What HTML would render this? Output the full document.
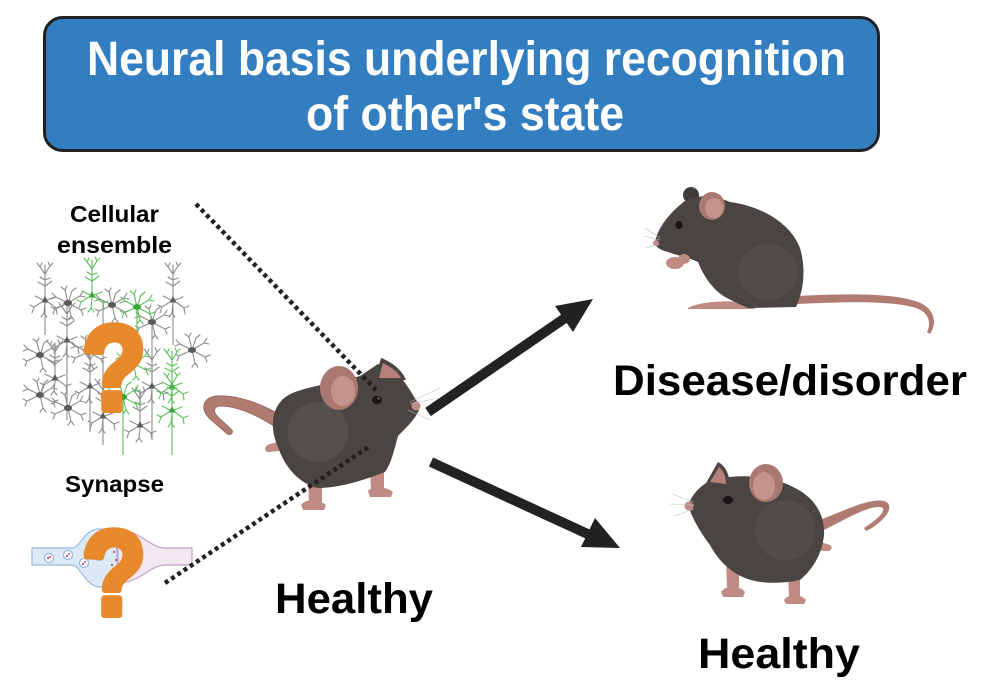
<!DOCTYPE html>
<html><head><meta charset="utf-8"><style>
html,body{margin:0;padding:0;background:#fff;}
svg{display:block;}
text{font-family:"Liberation Sans",Arial,sans-serif;font-weight:bold;}
</style></head><body>
<svg width="993" height="700" viewBox="0 0 993 700" xmlns="http://www.w3.org/2000/svg">
<defs>
 <g id="pyr" stroke-width="1.1" stroke-linecap="round">
  <path fill="none" d="M0,-3 V-26 M0,-26 L-5,-33 M0,-26 L5,-34 M0,-26 L0,-35 M-5,-33 L-8,-37 M-5,-33 L-3,-37 M5,-34 L8,-37 M5,-34 L3,-38 M0,-14 L-7,-18 M0,-14 L7,-19 M0,-20 L-5,-23 M0,-20 L5,-22 M-3,2 L-11,7 L-15,5 M-11,7 L-13,13 M3,2 L11,8 L16,6 M11,8 L12,14 M0,3 L-1,13 M-1,13 L-4,17 M-1,13 L2,17 M-2,0 L-10,-4 M2,0 L10,-3"/>
  <path stroke="none" d="M-3.5,2.5 L0,-4 L3.5,2.5 Z"/>
 </g>
 <g id="star" stroke-width="1.1" stroke-linecap="round">
  <path fill="none" d="M0,0 L-12,-6 L-16,-10 M-12,-6 L-17,-4 M0,0 L12,-7 L15,-12 M12,-7 L17,-6 M0,0 L-13,6 L-17,4 M-13,6 L-15,11 M0,0 L13,7 L18,5 M13,7 L15,12 M0,0 L-3,-13 L-7,-16 M-3,-13 L-1,-17 M0,0 L3,13 L0,17 M3,13 L6,17 M0,0 L4,-12 L8,-15"/>
  <ellipse rx="4" ry="3" stroke="none"/>
 </g>
</defs>
<rect width="993" height="700" fill="#fff"/>

<!-- banner -->
<rect x="44.5" y="17.5" width="834" height="133" rx="18" fill="#327ec1" stroke="#222" stroke-width="3"/>
<text x="87" y="75" font-size="48" fill="#fff" textLength="759" lengthAdjust="spacingAndGlyphs">Neural basis underlying recognition</text>
<text x="306" y="130" font-size="48" fill="#fff" textLength="318" lengthAdjust="spacingAndGlyphs">of other's state</text>

<!-- labels -->
<text x="70" y="222" font-size="23" fill="#000" textLength="89" lengthAdjust="spacingAndGlyphs">Cellular</text>
<text x="57" y="253" font-size="23" fill="#000" textLength="115" lengthAdjust="spacingAndGlyphs">ensemble</text>
<text x="65" y="492" font-size="23" fill="#000" textLength="99" lengthAdjust="spacingAndGlyphs">Synapse</text>
<text x="275" y="613" font-size="43" fill="#000" textLength="158" lengthAdjust="spacingAndGlyphs">Healthy</text>
<text x="613" y="395" font-size="43" fill="#000" textLength="354" lengthAdjust="spacingAndGlyphs">Disease/disorder</text>
<text x="698" y="668" font-size="43" fill="#000" textLength="162" lengthAdjust="spacingAndGlyphs">Healthy</text>

<!-- neurons gray -->
<g stroke="#8d8d8d" fill="#5a5a5a">
 <path fill="none" stroke-width="1.1" d="M173,298 V345 M103,300 V445 M67,337 V420 M45,292 V335 M152,322 V440 M90,383 V432"/>
 <use href="#pyr" x="45" y="300"/>
 <use href="#pyr" x="67" y="340"/>
 <use href="#pyr" x="55" y="378"/>
 <use href="#pyr" x="90" y="386"/>
 <use href="#pyr" x="173" y="300"/>
 <use href="#pyr" x="152" y="386"/>
 <use href="#pyr" x="140" y="425"/>
 <use href="#pyr" x="103" y="416"/>
 <use href="#star" x="68" y="303"/>
 <use href="#star" x="112" y="305"/>
 <use href="#star" x="152" y="322"/>
 <use href="#star" x="40" y="355"/>
 <use href="#star" x="88" y="352"/>
 <use href="#star" x="192" y="350"/>
 <use href="#star" x="68" y="408"/>
 <use href="#star" x="40" y="395"/>
</g>
<!-- neurons green -->
<g stroke="#5cc05c" fill="#3ca33c">
 <path fill="none" stroke-width="1.1" d="M123,397 V455 M172,407 V455 M137,307 V360"/>
 <use href="#pyr" x="92" y="295"/>
 <use href="#pyr" x="172" y="386"/>
 <use href="#pyr" x="172" y="410"/>
 <use href="#star" x="137" y="307"/>
 <use href="#star" x="133" y="363"/>
 <use href="#star" x="123" y="397"/>
</g>

<!-- question mark 1 -->
<text x="114" y="409.5" font-size="120" fill="#e8892b" stroke="#e8892b" stroke-width="7" stroke-linejoin="round" text-anchor="middle" transform="translate(114,0) scale(0.88,1) translate(-114,0)">?</text>

<!-- synapse -->
<path d="M32,548 L72,548 C80,548 84,530 98,529 L116,529 L118,586 L100,587 C86,587 80,565 72,565 L32,565 Z" fill="#dce9f7" stroke="#9bb8dc" stroke-width="1.2"/>
<path d="M118,530 C140,530 150,548 165,548 L192,548 L192,565 L165,565 C150,565 140,583 118,583 Z" fill="#f3e8f1" stroke="#c7a2c6" stroke-width="1.2"/>
<g fill="#f4f8fd" stroke="#8eaedb" stroke-width="1">
 <circle cx="49" cy="558" r="4.5"/><circle cx="68" cy="555" r="4.5"/><circle cx="84" cy="563" r="4.5"/><circle cx="99" cy="556" r="4.5"/>
</g>
<g fill="#b3343a">
 <circle cx="48" cy="558" r="1"/><circle cx="50" cy="557" r="0.9"/><circle cx="67" cy="556" r="1"/><circle cx="69" cy="554" r="0.9"/><circle cx="83" cy="564" r="1"/><circle cx="85" cy="562" r="0.9"/><circle cx="98" cy="557" r="1"/><circle cx="100" cy="555" r="0.9"/>
 <circle cx="110" cy="545" r="1"/><circle cx="114" cy="552" r="1"/><circle cx="118" cy="541" r="1"/><circle cx="116" cy="560" r="1"/><circle cx="112" cy="565" r="1"/>
</g>
<text x="114" y="614.5" font-size="120" fill="#e8892b" stroke="#e8892b" stroke-width="7" stroke-linejoin="round" text-anchor="middle" transform="translate(114,0) scale(0.88,1) translate(-114,0)">?</text>

<!-- center mouse -->
<g>
 <path d="M282,416 C262,404 236,394 216,396 C202,398 200,410 210,419 L226,433 C229,436 234,434 232,430 L218,417 C212,411 214,406 222,406 C242,407 262,418 280,430 Z" fill="#b07c72" stroke="#8f6058" stroke-width="0.8"/>
 <path d="M286,440 L270,444 C263,446 264,453 270,452 L286,450 Z" fill="#c08b83"/>
 <path d="M370,468 L371,490 L384,490 L384,466 Z" fill="#c08b83"/>
 <path d="M368,491 C372,486 386,486 393,492 L391,497 L370,497 Z" fill="#c08b83"/>
 <path d="M308,478 L309,502 L322,502 L322,478 Z" fill="#c08b83"/>
 <path d="M301,505 C305,499 318,498 326,505 L324,510 L303,510 Z" fill="#c08b83"/>
 <path d="M278,447 C268,425 272,400 295,392 C315,385 335,383 360,376 L378,364 L395,372 C405,380 412,394 420,406 C418,416 410,424 398,436 C394,450 392,462 385,472 C365,480 340,488 318,488 C300,484 285,468 278,447 Z" fill="#4a4543"/>
 <ellipse cx="318" cy="432" rx="30" ry="30" fill="#55504d"/>
 <ellipse cx="339" cy="388" rx="19" ry="22" fill="#a97870"/>
 <ellipse cx="343" cy="391" rx="12" ry="15" fill="#c4948c"/>
 <path d="M374,382 L381,358 C392,362 402,370 406,380 Z" fill="#4a4543"/>
 <path d="M379,378 L383,363 C391,367 398,372 401,378 Z" fill="#b78078"/>
 <ellipse cx="377" cy="400" rx="5" ry="4" fill="#151515"/>
 <circle cx="378.5" cy="398.5" r="1" fill="#888"/>
 <circle cx="416" cy="406" r="4.5" fill="#c28a86"/>
 <path d="M410,402 L440,388 M410,404 L438,398 M408,410 L430,420" stroke="#bbb" stroke-width="0.6" fill="none"/>
</g>

<!-- top-right mouse -->
<g>
 <path d="M796,296 C840,294 890,292 918,302 C934,308 938,322 930,334 L927,332 C932,322 928,312 916,308 C890,300 840,302 796,304 Z" fill="#b07c72"/>
 <path d="M688,308 C700,301 730,300 755,303 L755,309 L688,309 Z" fill="#c08b83"/>
 <circle cx="691" cy="195" r="8" fill="#3f3b39"/>
 <path d="M655,242 C658,228 668,214 686,200 C700,194 716,196 730,202 C760,206 790,222 800,248 C806,268 804,290 796,307 L748,308 C735,302 725,298 718,292 C708,283 702,272 698,262 C690,258 676,255 668,252 C660,250 655,247 655,242 Z" fill="#4a4543"/>
 <ellipse cx="768" cy="272" rx="30" ry="28" fill="#524d4a"/>
 <ellipse cx="712" cy="206" rx="13" ry="14" fill="#a97870"/>
 <ellipse cx="714" cy="208" rx="9" ry="10" fill="#c4948c"/>
 <ellipse cx="675" cy="263" rx="9" ry="6" fill="#c08b83"/>
 <ellipse cx="684" cy="259" rx="6" ry="5" fill="#c08b83"/>
 <ellipse cx="679" cy="225" rx="3.5" ry="4" fill="#151515"/>
 <circle cx="656" cy="243" r="3" fill="#c28a86"/>
 <path d="M660,238 L645,228 M660,240 L644,236 M660,244 L646,248" stroke="#bbb" stroke-width="0.6" fill="none"/>
</g>

<!-- bottom-right mouse -->
<g>
 <path d="M820,520 C845,510 870,498 884,501 C894,504 890,516 872,528 L866,531 L864,528 L870,524 C884,514 886,508 880,507 C868,506 848,518 824,530 Z" fill="#b07c72"/>
 <path d="M815,540 L830,545 C834,548 830,552 826,551 L814,550 Z" fill="#c08b83"/>
 <path d="M726,558 L727,587 L739,587 L739,558 Z" fill="#c08b83"/>
 <path d="M721,592 C726,585 738,584 745,592 L743,597 L723,597 Z" fill="#c08b83"/>
 <path d="M788,572 L789,597 L800,597 L800,570 Z" fill="#c08b83"/>
 <path d="M784,600 C788,594 800,593 806,600 L804,604 L786,604 Z" fill="#c08b83"/>
 <path d="M688,505 C692,495 700,485 712,480 C735,474 770,474 795,488 C815,498 825,515 824,535 C822,555 812,570 800,580 C780,584 760,584 745,578 C730,572 718,560 710,545 C700,532 692,518 688,505 Z" fill="#4a4543"/>
 <ellipse cx="785" cy="530" rx="30" ry="30" fill="#524d4a"/>
 <path d="M705,485 L718,462 C726,466 730,476 730,487 Z" fill="#4a4543"/>
 <path d="M710,482 L719,467 C724,471 726,478 726,484 Z" fill="#b78078"/>
 <ellipse cx="766" cy="483" rx="17" ry="19" fill="#a97870"/>
 <ellipse cx="764" cy="486" rx="11" ry="14" fill="#c4948c"/>
 <ellipse cx="728" cy="500" rx="5" ry="4" fill="#151515"/>
 <circle cx="689" cy="506" r="4.5" fill="#c28a86"/>
 <path d="M694,502 L672,494 M694,505 L670,504 M694,509 L674,516" stroke="#bbb" stroke-width="0.6" fill="none"/>
</g>

<!-- dotted lines -->
<g stroke="#222" stroke-width="4.5" stroke-dasharray="4 3.5" fill="none">
 <line x1="196" y1="204" x2="378" y2="392"/>
 <line x1="165" y1="583" x2="370" y2="446"/>
</g>

<!-- arrows -->
<g fill="#222" stroke="#222">
 <line x1="428" y1="412" x2="568" y2="316" stroke-width="10"/>
 <polygon points="593,299 573,332 555,306" stroke="none"/>
 <line x1="431" y1="462" x2="592" y2="536" stroke-width="10"/>
 <polygon points="620,548 581,547 595,518" stroke="none"/>
</g>
</svg>
</body></html>
